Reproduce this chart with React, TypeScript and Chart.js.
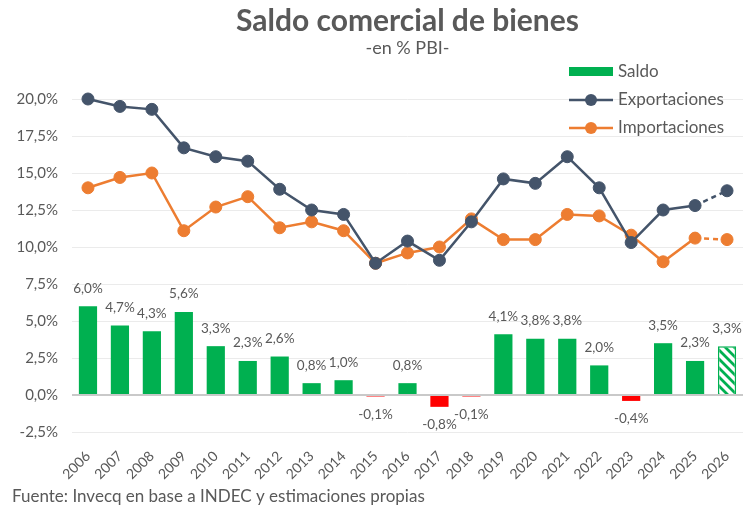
import React, { useEffect, useRef } from "react";
import { Chart, registerables } from "chart.js";

Chart.register(...registerables);

const years = [
  "2006", "2007", "2008", "2009", "2010", "2011", "2012", "2013", "2014", "2015",
  "2016", "2017", "2018", "2019", "2020", "2021", "2022", "2023", "2024", "2025", "2026",
];

// Saldo comercial (% PBI)
const saldo = [6.0, 4.7, 4.3, 5.6, 3.3, 2.3, 2.6, 0.8, 1.0, -0.1, 0.8, -0.8, -0.1, 4.1, 3.8, 3.8, 2.0, -0.4, 3.5, 2.3, 3.3];

// Exportaciones (% PBI)
const exportaciones = [20.0, 19.5, 19.3, 16.7, 16.1, 15.8, 13.9, 12.5, 12.2, 8.9, 10.4, 9.1, 11.7, 14.6, 14.3, 16.1, 14.0, 10.3, 12.5, 12.8, 13.8];

// Importaciones (% PBI)
const importaciones = [14.0, 14.7, 15.0, 11.1, 12.7, 13.4, 11.3, 11.7, 11.1, 8.9, 9.6, 10.0, 11.9, 10.5, 10.5, 12.2, 12.1, 10.8, 9.0, 10.6, 10.5];

const yTicks = [-2.5, 0, 2.5, 5, 7.5, 10, 12.5, 15, 17.5, 20];

const TITLE = "Saldo comercial de bienes";
const SUBTITLE = "-en % PBI-";
const SOURCE = "Fuente: Invecq en base a INDEC y estimaciones propias";

const GREEN = "#00B050";
const RED = "#FF0000";
const NAVY = "#44546A";
const ORANGE = "#ED7D31";
const TEXT = "#595959";
const FONT = "Lato, 'Open Sans', sans-serif";

const pct = (v: number) => v.toFixed(1).replace(".", ",") + "%";

// diagonal green stripes for the estimated year
function hatchPattern(): CanvasPattern | string {
  const size = 9;
  const c = document.createElement("canvas");
  c.width = size;
  c.height = size;
  const g = c.getContext("2d");
  if (!g) return GREEN;
  g.fillStyle = "#ffffff";
  g.fillRect(0, 0, size, size);
  g.strokeStyle = GREEN;
  g.lineWidth = 2.8;
  g.beginPath();
  for (let k = -1; k <= 1; k++) {
    g.moveTo(k * size - 2, -2);
    g.lineTo(k * size + size + 2, size + 2);
  }
  g.stroke();
  const p = g.createPattern(c, "repeat");
  return p || GREEN;
}

const decorations = {
  id: "decorations",
  beforeDraw(chart: any) {
    const { ctx, width, height } = chart;
    ctx.save();
    ctx.fillStyle = "#ffffff";
    ctx.fillRect(0, 0, width, height);
    ctx.restore();
  },
  afterDatasetsDraw(chart: any) {
    const { ctx } = chart;
    const meta = chart.getDatasetMeta(0);
    ctx.save();
    ctx.font = `13.5px ${FONT}`;
    ctx.fillStyle = TEXT;
    ctx.textAlign = "center";
    ctx.textBaseline = "middle";
    meta.data.forEach((bar: any, i: number) => {
      const v = saldo[i];
      const y = v >= 0 ? bar.y - 18 : bar.y + 18;
      ctx.fillText(pct(v), bar.x, y);
    });
    ctx.restore();
  },
  afterDraw(chart: any) {
    const { ctx, chartArea } = chart;
    const cx = (chartArea.left + chartArea.right) / 2;
    ctx.save();
    ctx.fillStyle = TEXT;
    ctx.textAlign = "center";
    ctx.textBaseline = "middle";
    ctx.font = `bold 30px ${FONT}`;
    ctx.fillText(TITLE, cx, 21);
    ctx.font = `18px ${FONT}`;
    ctx.fillText(SUBTITLE, cx, 48);

    // legend
    const lx = 569;
    const lw = 44;
    const tx = 618;
    ctx.textAlign = "left";
    ctx.font = `17px ${FONT}`;
    ctx.fillStyle = GREEN;
    ctx.fillRect(lx, 67, lw, 9);
    ctx.fillStyle = TEXT;
    ctx.fillText("Saldo", tx, 72);

    const lineEntry = (color: string, label: string, y: number) => {
      ctx.strokeStyle = color;
      ctx.lineWidth = 2.5;
      ctx.beginPath();
      ctx.moveTo(lx, y);
      ctx.lineTo(lx + lw, y);
      ctx.stroke();
      ctx.fillStyle = color;
      ctx.beginPath();
      ctx.arc(lx + lw / 2, y, 6, 0, Math.PI * 2);
      ctx.fill();
      ctx.fillStyle = TEXT;
      ctx.fillText(label, tx, y);
    };
    lineEntry(NAVY, "Exportaciones", 100);
    lineEntry(ORANGE, "Importaciones", 128);

    ctx.font = `17px ${FONT}`;
    ctx.fillText(SOURCE, 12, 497);
    ctx.restore();
  },
};

export default function App() {
  const ref = useRef<HTMLCanvasElement | null>(null);

  useEffect(() => {
    if (!ref.current) return;
    const hatch = hatchPattern();
    const last = saldo.length - 1;
    const dashLast = (c: any) => (c.p1DataIndex === last ? [5, 4] : undefined);

    const chart = new Chart(ref.current, {
      type: "bar",
      data: {
        labels: years,
        datasets: [
          {
            type: "bar",
            label: "Saldo",
            data: saldo,
            backgroundColor: saldo.map((v, i) => (i === last ? hatch : v < 0 ? RED : GREEN)) as any,
            borderColor: GREEN,
            borderWidth: saldo.map((_, i) => (i === last ? 1.5 : 0)),
            categoryPercentage: 1,
            barPercentage: 0.57,
            order: 2,
          },
          {
            type: "line",
            label: "Exportaciones",
            data: exportaciones,
            borderColor: NAVY,
            backgroundColor: NAVY,
            borderWidth: 2.5,
            pointRadius: 6,
            pointBorderWidth: 1,
            pointBorderColor: NAVY,
            pointBackgroundColor: NAVY,
            tension: 0,
            clip: false,
            segment: { borderDash: dashLast },
            order: 0,
          },
          {
            type: "line",
            label: "Importaciones",
            data: importaciones,
            borderColor: ORANGE,
            backgroundColor: ORANGE,
            borderWidth: 2.5,
            pointRadius: 6,
            pointBorderWidth: 1,
            pointBorderColor: ORANGE,
            pointBackgroundColor: ORANGE,
            tension: 0,
            clip: false,
            segment: { borderDash: dashLast },
            order: 1,
          },
        ] as any,
      },
      options: {
        responsive: false,
        animation: false,
        layout: { padding: { top: 99, right: 9, left: 0, bottom: 0 } },
        plugins: {
          legend: { display: false },
          title: { display: false },
          tooltip: { enabled: false },
        },
        scales: {
          x: {
            grid: { display: false },
            border: { display: false },
            ticks: {
              color: TEXT,
              font: { family: FONT, size: 14 },
              minRotation: 45,
              maxRotation: 45,
              padding: 8,
            },
            afterFit: (s: any) => {
              s.height = 80;
            },
          },
          y: {
            min: -2.5,
            max: 20,
            border: { display: false },
            afterBuildTicks: (s: any) => {
              s.ticks = yTicks.map((v) => ({ value: v }));
            },
            afterFit: (s: any) => {
              s.width = 72;
            },
            grid: {
              drawTicks: false,
              color: (c: any) => (c.tick && c.tick.value === 0 ? "#C9C9C9" : "#EBEBEB"),
              lineWidth: (c: any) => (c.tick && c.tick.value === 0 ? 2 : 1),
            },
            ticks: {
              color: TEXT,
              font: { family: FONT, size: 15 },
              padding: 14,
              callback: (v: any) => pct(Number(v)),
            },
          },
        },
      },
      plugins: [decorations],
    });

    return () => chart.destroy();
  }, []);

  return (
    <div style={{ position: "fixed", left: 0, top: 0, width: 752, height: 512, background: "#fff" }}>
      <canvas ref={ref} width={752} height={512} />
    </div>
  );
}
